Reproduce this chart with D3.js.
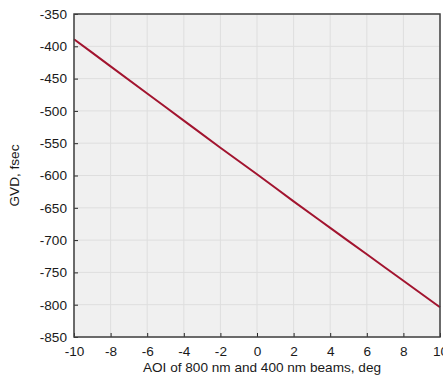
<!DOCTYPE html>
<html>
<head>
<meta charset="utf-8">
<script src="https://cdn.jsdelivr.net/npm/d3@7"></script>
<style>
  body { margin: 0; background: #fff; }
  text { font-family: "Liberation Sans", Arial, sans-serif; }
</style>
</head>
<body>
<svg></svg>
<script>
// angle of incidence (deg) and GVD (fsec)
const aoi = [-10, -8, -6, -4, -2, 0, 2, 4, 6, 8, 10];
const gvd = [-389, -431, -473, -515, -557, -598, -640, -681, -722, -763, -804];
const xTicks = [-10, -8, -6, -4, -2, 0, 2, 4, 6, 8, 10];
const yTicks = [-850, -800, -750, -700, -650, -600, -550, -500, -450, -400, -350];

const W = 443, H = 380;
const m = { left: 74, right: 3, top: 14, bottom: 43 };
const svg = d3.select("svg").attr("width", W).attr("height", H);

const x = d3.scaleLinear().domain([-10, 10]).range([m.left, W - m.right]);
const y = d3.scaleLinear().domain([-850, -350]).range([H - m.bottom, m.top]);

// plot background
svg.append("rect")
    .attr("x", m.left).attr("y", m.top)
    .attr("width", W - m.left - m.right).attr("height", H - m.top - m.bottom)
    .attr("fill", "#f0f0f0");

// grid
svg.append("g").selectAll("line").data(xTicks).join("line")
    .attr("x1", d => x(d)).attr("x2", d => x(d))
    .attr("y1", m.top).attr("y2", H - m.bottom)
    .attr("stroke", "#dedede").attr("stroke-width", 1);
svg.append("g").selectAll("line").data(yTicks).join("line")
    .attr("y1", d => y(d)).attr("y2", d => y(d))
    .attr("x1", m.left).attr("x2", W - m.right)
    .attr("stroke", "#dedede").attr("stroke-width", 1);

// data line
svg.append("path")
    .datum(aoi.map((a, i) => [a, gvd[i]]))
    .attr("d", d3.line().x(d => x(d[0])).y(d => y(d[1])).curve(d3.curveMonotoneX))
    .attr("fill", "none")
    .attr("stroke", "#a2142f")
    .attr("stroke-width", 2);

// axes, ticks inward, plain hyphen minus
const fmt = d => String(d);
const xAxis = svg.append("g")
    .attr("transform", `translate(0,${H - m.bottom})`)
    .call(d3.axisBottom(x).tickValues(xTicks).tickFormat(fmt).tickSizeInner(-4).tickSizeOuter(0).tickPadding(9));
const yAxis = svg.append("g")
    .attr("transform", `translate(${m.left},0)`)
    .call(d3.axisLeft(y).tickValues(yTicks).tickFormat(fmt).tickSizeInner(-4).tickSizeOuter(0).tickPadding(7));

[xAxis, yAxis].forEach(g => {
    g.select(".domain").remove();
    g.selectAll(".tick line").attr("stroke", "#262626");
    g.selectAll(".tick text").attr("font-size", 13.6).attr("fill", "#1a1a1a")
        .style("font-family", "'Liberation Sans', Arial, sans-serif");
});

// box
svg.append("rect")
    .attr("x", m.left).attr("y", m.top)
    .attr("width", W - m.left - m.right).attr("height", H - m.top - m.bottom)
    .attr("fill", "none").attr("stroke", "#404040").attr("stroke-width", 1.5);

svg.append("text")
    .attr("x", (m.left + W - m.right) / 2 + 5).attr("y", 372)
    .attr("text-anchor", "middle").attr("font-size", 13.6).attr("fill", "#1a1a1a")
    .text("AOI of 800 nm and 400 nm beams, deg");

svg.append("text")
    .attr("transform", `translate(19,${(m.top + H - m.bottom) / 2}) rotate(-90)`)
    .attr("text-anchor", "middle").attr("font-size", 13.6).attr("fill", "#1a1a1a")
    .text("GVD, fsec");
</script>
</body>
</html>
